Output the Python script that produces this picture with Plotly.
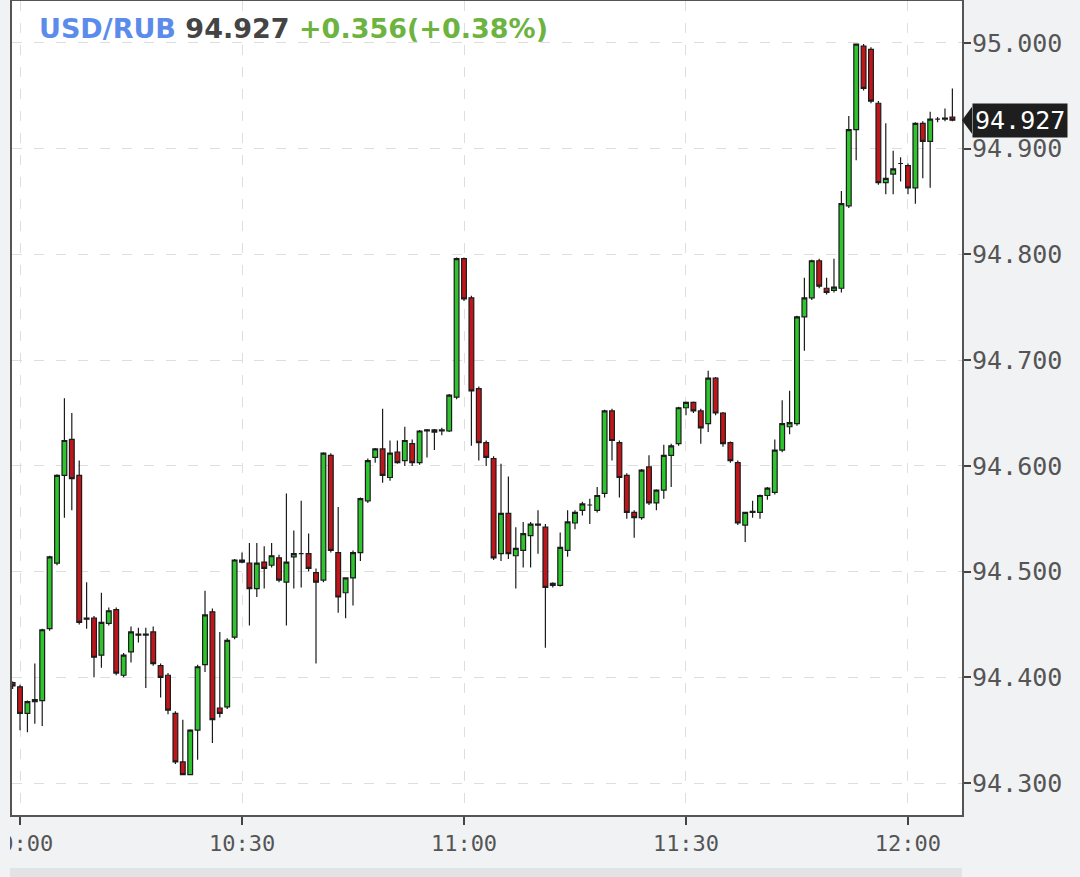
import pandas as pd
import plotly.graph_objects as go

# ---- data (USD/RUB 1-minute candles, starting 09:59) ----
open_ = [94.395, 94.391, 94.366, 94.377, 94.378, 94.446, 94.508, 94.591, 94.625, 94.591,
         94.456, 94.456, 94.421, 94.451, 94.464, 94.402, 94.424, 94.440, 94.441, 94.443,
         94.411, 94.402, 94.366, 94.320, 94.308, 94.350, 94.412, 94.462, 94.371, 94.372,
         94.438, 94.509, 94.508, 94.484, 94.509, 94.506, 94.513, 94.490, 94.514, 94.517,
         94.517, 94.499, 94.492, 94.610, 94.518, 94.480, 94.494, 94.518, 94.567, 94.608,
         94.616, 94.589, 94.613, 94.605, 94.621, 94.603, 94.633, 94.632, 94.633, 94.633,
         94.665, 94.796, 94.759, 94.673, 94.622, 94.607, 94.517, 94.555, 94.515, 94.520,
         94.534, 94.544, 94.542, 94.487, 94.487, 94.520, 94.546, 94.558, 94.563, 94.558,
         94.574, 94.652, 94.622, 94.591, 94.556, 94.551, 94.599, 94.565, 94.577, 94.610,
         94.621, 94.655, 94.660, 94.652, 94.640, 94.683, 94.650, 94.622, 94.603, 94.544,
         94.556, 94.556, 94.572, 94.575, 94.615, 94.637, 94.640, 94.741, 94.759, 94.794,
         94.768, 94.766, 94.768, 94.846, 94.918, 94.997, 94.994, 94.943, 94.868, 94.876,
         94.886, 94.884, 94.863, 94.924, 94.907, 94.928, 94.928, 94.930]
high = [94.396, 94.393, 94.378, 94.413, 94.446, 94.515, 94.592, 94.664, 94.650, 94.605,
        94.490, 94.458, 94.480, 94.466, 94.466, 94.423, 94.448, 94.447, 94.447, 94.448,
        94.413, 94.404, 94.368, 94.360, 94.351, 94.412, 94.482, 94.465, 94.443, 94.437,
        94.512, 94.518, 94.527, 94.527, 94.524, 94.527, 94.516, 94.574, 94.539, 94.567,
        94.536, 94.503, 94.613, 94.612, 94.561, 94.494, 94.520, 94.570, 94.607, 94.617,
        94.654, 94.624, 94.624, 94.637, 94.625, 94.634, 94.635, 94.635, 94.636, 94.668,
        94.797, 94.797, 94.761, 94.675, 94.624, 94.609, 94.602, 94.590, 94.542, 94.547,
        94.547, 94.558, 94.545, 94.490, 94.537, 94.558, 94.558, 94.566, 94.569, 94.580,
        94.653, 94.654, 94.624, 94.593, 94.558, 94.597, 94.610, 94.578, 94.620, 94.621,
        94.656, 94.661, 94.661, 94.654, 94.690, 94.684, 94.651, 94.623, 94.605, 94.556,
        94.567, 94.573, 94.580, 94.625, 94.662, 94.671, 94.742, 94.778, 94.795, 94.796,
        94.778, 94.796, 94.860, 94.931, 94.999, 94.999, 94.996, 94.945, 94.924, 94.898,
        94.892, 94.886, 94.925, 94.926, 94.935, 94.930, 94.938, 94.957]
low = [94.389, 94.350, 94.348, 94.356, 94.354, 94.444, 94.506, 94.551, 94.558, 94.450,
       94.446, 94.400, 94.409, 94.449, 94.402, 94.400, 94.414, 94.433, 94.390, 94.411,
       94.381, 94.365, 94.318, 94.308, 94.308, 94.322, 94.405, 94.338, 94.362, 94.370,
       94.436, 94.508, 94.449, 94.476, 94.484, 94.504, 94.490, 94.449, 94.484, 94.485,
       94.500, 94.413, 94.490, 94.518, 94.461, 94.456, 94.468, 94.510, 94.565, 94.603,
       94.584, 94.586, 94.602, 94.600, 94.600, 94.601, 94.608, 94.615, 94.629, 94.632,
       94.663, 94.756, 94.619, 94.605, 94.600, 94.511, 94.510, 94.512, 94.484, 94.504,
       94.504, 94.517, 94.428, 94.485, 94.486, 94.514, 94.540, 94.553, 94.545, 94.556,
       94.570, 94.605, 94.570, 94.550, 94.532, 94.549, 94.563, 94.558, 94.569, 94.580,
       94.619, 94.648, 94.650, 94.621, 94.632, 94.648, 94.618, 94.603, 94.544, 94.528,
       94.551, 94.550, 94.568, 94.573, 94.613, 94.630, 94.638, 94.709, 94.757, 94.768,
       94.762, 94.764, 94.764, 94.844, 94.889, 94.955, 94.943, 94.866, 94.857, 94.857,
       94.869, 94.857, 94.848, 94.872, 94.863, 94.925, 94.926, 94.926]
close = [94.392, 94.366, 94.377, 94.379, 94.445, 94.514, 94.591, 94.624, 94.588, 94.452,
         94.455, 94.419, 94.452, 94.463, 94.404, 94.421, 94.443, 94.441, 94.440, 94.413,
         94.400, 94.369, 94.320, 94.308, 94.350, 94.410, 94.459, 94.360, 94.366, 94.435,
         94.511, 94.511, 94.484, 94.508, 94.503, 94.515, 94.492, 94.509, 94.517, 94.517,
         94.503, 94.490, 94.612, 94.520, 94.476, 94.494, 94.518, 94.569, 94.605, 94.616,
         94.591, 94.612, 94.603, 94.624, 94.603, 94.633, 94.634, 94.634, 94.634, 94.667,
         94.796, 94.758, 94.671, 94.622, 94.608, 94.513, 94.555, 94.517, 94.522, 94.536,
         94.545, 94.545, 94.485, 94.489, 94.523, 94.547, 94.556, 94.564, 94.563, 94.572,
         94.652, 94.624, 94.589, 94.556, 94.551, 94.596, 94.565, 94.577, 94.610, 94.619,
         94.655, 94.660, 94.652, 94.636, 94.683, 94.650, 94.621, 94.605, 94.546, 94.556,
         94.557, 94.572, 94.579, 94.615, 94.640, 94.641, 94.741, 94.759, 94.794, 94.770,
         94.764, 94.769, 94.848, 94.918, 94.999, 94.957, 94.945, 94.868, 94.872, 94.881,
         94.886, 94.863, 94.924, 94.907, 94.928, 94.928, 94.929, 94.927]

first_candle = "2023-08-11 09:59"
x_range = ["2023-08-11 09:58:55", "2023-08-11 12:07:18"]
y_range = [94.2698, 95.0397]
y_ticks = [94.3, 94.4, 94.5, 94.6, 94.7, 94.8, 94.9, 95.0]

symbol = "USD/RUB"
last_price = "94.927"
change_text = "+0.356(+0.38%)"

times = pd.date_range(first_candle, periods=len(close), freq="1min")

fig = go.Figure()
fig.add_trace(go.Candlestick(
    x=times, open=open_, high=high, low=low, close=close,
    increasing=dict(line=dict(color="#1c1c1c", width=1.2), fillcolor="#2dc42d"),
    decreasing=dict(line=dict(color="#1c1c1c", width=1.2), fillcolor="#c0161b"),
    whiskerwidth=0, showlegend=False, hoverinfo="skip",
))

W, H = 1080, 877
ml, mr, mt, mb = 12, 118, 1, 62
plot_w = W - ml - mr
plot_h = H - mt - mb
paper_col = "#f1f2f4"

grid = dict(showgrid=True, gridcolor="#dedede", gridwidth=1, griddash="10px,12px")

fig.update_layout(
    width=W, height=H,
    margin=dict(l=ml, r=mr, t=mt, b=mb, autoexpand=False),
    paper_bgcolor=paper_col, plot_bgcolor="#ffffff",
    boxgap=0.08,
    xaxis=dict(
        type="date", range=x_range, rangeslider=dict(visible=False),
        dtick=30 * 60 * 1000, tick0="2023-08-11 10:00", tickformat="%H:%M",
        ticks="outside", ticklen=8, tickwidth=1.5, tickcolor="#444",
        ticklabeloverflow="allow", automargin=False,
        tickfont=dict(family="DejaVu Sans Mono", size=22, color="#555"),
        showline=True, linecolor="#555", linewidth=2, mirror=True,
        zeroline=False, **grid,
    ),
    yaxis=dict(
        side="right", range=y_range, tickvals=y_ticks, tickformat=".3f",
        ticks="outside", ticklen=7, tickwidth=1.5, tickcolor="#444",
        ticklabelstandoff=-4, automargin=False,
        tickfont=dict(family="DejaVu Sans Mono", size=25, color="#555"),
        showline=True, linecolor="#555", linewidth=2, mirror=True,
        zeroline=False, **grid,
    ),
)

# header text
fig.add_annotation(
    xref="paper", yref="paper", x=(37 - ml) / plot_w, y=1 - 10 / plot_h,
    xanchor="left", yanchor="top", showarrow=False,
    text=(f"<b><span style='color:#5b8cec'>{symbol}</span> "
          f"<span style='color:#444444'>{last_price}</span> "
          f"<span style='color:#6cb33f'>{change_text}</span></b>"),
    font=dict(family="DejaVu Sans", size=27),
)

# last price marker on the axis
last_close = close[-1]
arrow_dx = 10 / plot_w
half_h = 13.5 * (y_range[1] - y_range[0]) / plot_h
fig.add_shape(
    type="path", xref="paper", yref="y",
    path=(f"M 1 {last_close} L {1 + arrow_dx} {last_close + half_h} "
          f"L {1 + arrow_dx} {last_close - half_h} Z"),
    fillcolor="#1e1e1e", line=dict(width=0),
)
fig.add_annotation(
    xref="paper", yref="y", x=1 + arrow_dx, y=last_close,
    xanchor="left", yanchor="middle", showarrow=False,
    text=f"{last_close:.3f}", bgcolor="#1e1e1e", borderpad=2,
    font=dict(family="DejaVu Sans Mono", size=25, color="#ffffff"),
)

# bottom scroll strip
fig.add_shape(
    type="rect", xref="paper", yref="paper",
    x0=(10 - ml) / plot_w, x1=1.0, y0=-(mb) / plot_h, y1=-(53) / plot_h,
    fillcolor="#e2e3e5", line=dict(width=0), layer="below",
)
# container edge clipping the first time label
fig.add_shape(
    type="rect", xref="paper", yref="paper",
    x0=-ml / plot_w, x1=(10 - ml) / plot_w, y0=-mb / plot_h, y1=-12 / plot_h,
    fillcolor=paper_col, line=dict(width=0), layer="above",
)

fig.write_html("out.html", config={"displayModeBar": False},
               post_script="document.body.style.margin='0';")
